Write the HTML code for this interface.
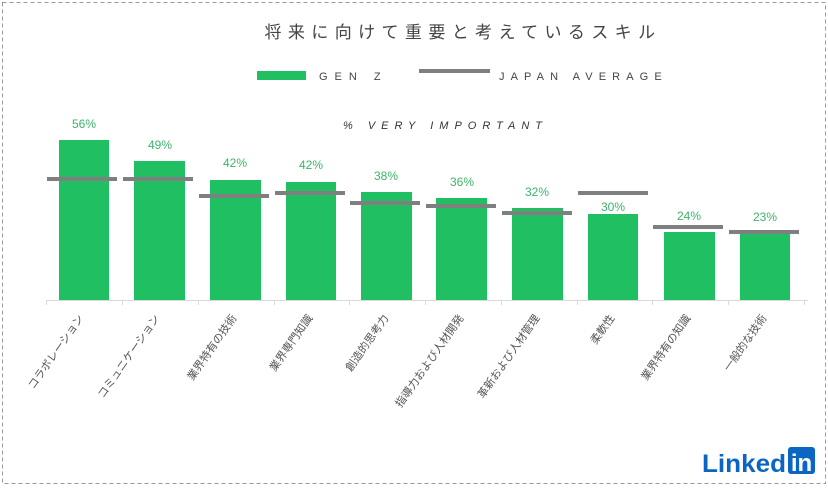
<!DOCTYPE html>
<html><head><meta charset="utf-8"><style>
html,body{margin:0;padding:0;background:#fff;}
svg{display:block}
</style></head><body>
<svg width="828" height="488" viewBox="0 0 828 488" xmlns="http://www.w3.org/2000/svg" font-family="'Liberation Sans','Noto Sans CJK JP',sans-serif">
<rect x="2.5" y="2.5" width="823" height="481" fill="#fff" stroke="#999" stroke-dasharray="4,3"/>
<text x="463" y="38" text-anchor="middle" font-size="17" fill="#444" letter-spacing="6.4">将来に向けて重要と考えているスキル</text>
<rect x="257" y="71" width="49" height="9" fill="#20c062"/>
<text x="319" y="80" font-size="11" fill="#444" letter-spacing="7">GEN Z</text>
<rect x="419" y="69" width="71" height="4" fill="#7f7f7f"/>
<text x="499" y="80" font-size="11" fill="#444" letter-spacing="6.1">JAPAN AVERAGE</text>
<text x="343" y="129" font-size="11" font-style="italic" fill="#333" letter-spacing="6">% VERY IMPORTANT</text>
<line x1="46" y1="300.5" x2="808" y2="300.5" stroke="#d9d9d9"/>
<g stroke="#d9d9d9">
<line x1="46.5" y1="300" x2="46.5" y2="305"/><line x1="122.5" y1="300" x2="122.5" y2="305"/><line x1="198.5" y1="300" x2="198.5" y2="305"/><line x1="274.5" y1="300" x2="274.5" y2="305"/><line x1="349.5" y1="300" x2="349.5" y2="305"/><line x1="425.5" y1="300" x2="425.5" y2="305"/><line x1="501.5" y1="300" x2="501.5" y2="305"/><line x1="577.5" y1="300" x2="577.5" y2="305"/><line x1="652.5" y1="300" x2="652.5" y2="305"/><line x1="728.5" y1="300" x2="728.5" y2="305"/><line x1="804.5" y1="300" x2="804.5" y2="305"/>
</g>
<g fill="#20c062">
<rect x="59" y="140" width="50" height="160"/>
<rect x="134" y="161" width="51" height="139"/>
<rect x="210" y="180" width="51" height="120"/>
<rect x="286" y="182" width="50" height="118"/>
<rect x="361" y="192" width="51" height="108"/>
<rect x="436" y="198" width="51" height="102"/>
<rect x="512" y="208" width="51" height="92"/>
<rect x="588" y="214" width="50" height="86"/>
<rect x="664" y="232" width="51" height="68"/>
<rect x="740" y="234" width="50" height="66"/>
</g>
<g fill="#7f7f7f">
<rect x="47" y="177" width="70" height="4"/>
<rect x="123" y="177" width="70" height="4"/>
<rect x="199" y="194" width="70" height="4"/>
<rect x="275" y="191" width="70" height="4"/>
<rect x="350" y="201" width="70" height="4"/>
<rect x="426" y="204" width="70" height="4"/>
<rect x="502" y="211" width="70" height="4"/>
<rect x="578" y="191" width="70" height="4"/>
<rect x="653" y="225" width="70" height="4"/>
<rect x="729" y="230" width="70" height="4"/>
</g>
<g fill="#3cb46a" font-size="12" text-anchor="middle">
<text x="84" y="128">56%</text>
<text x="160" y="149">49%</text>
<text x="235" y="167">42%</text>
<text x="311" y="169">42%</text>
<text x="386" y="180">38%</text>
<text x="462" y="186">36%</text>
<text x="537" y="196">32%</text>
<text x="613" y="211">30%</text>
<text x="689" y="220">24%</text>
<text x="765" y="221">23%</text>
</g>
<g fill="#555" font-size="11" text-anchor="end">
<text transform="translate(84,318) rotate(-55)">コラボレーション</text>
<text transform="translate(160,318) rotate(-55)">コミュニケーション</text>
<text transform="translate(237,318) rotate(-55)">業界特有の技術</text>
<text transform="translate(313,318) rotate(-55)">業界専門知識</text>
<text transform="translate(389,318) rotate(-55)">創造的思考力</text>
<text transform="translate(464,318) rotate(-55)">指導力および人材開発</text>
<text transform="translate(540,318) rotate(-55)">革新および人材管理</text>
<text transform="translate(615,318) rotate(-55)">柔軟性</text>
<text transform="translate(691,318) rotate(-55)">業界特有の知識</text>
<text transform="translate(767,318) rotate(-55)">一般的な技術</text>
</g>
<text x="702" y="472" font-size="25" font-weight="bold" fill="#0a66c2" textLength="84" lengthAdjust="spacingAndGlyphs">Linked</text>
<rect x="788" y="447" width="27" height="27" rx="3" fill="#0a66c2"/>
<text x="801.5" y="471" font-size="24" font-weight="bold" fill="#fff" text-anchor="middle">in</text>
</svg>
</body></html>
